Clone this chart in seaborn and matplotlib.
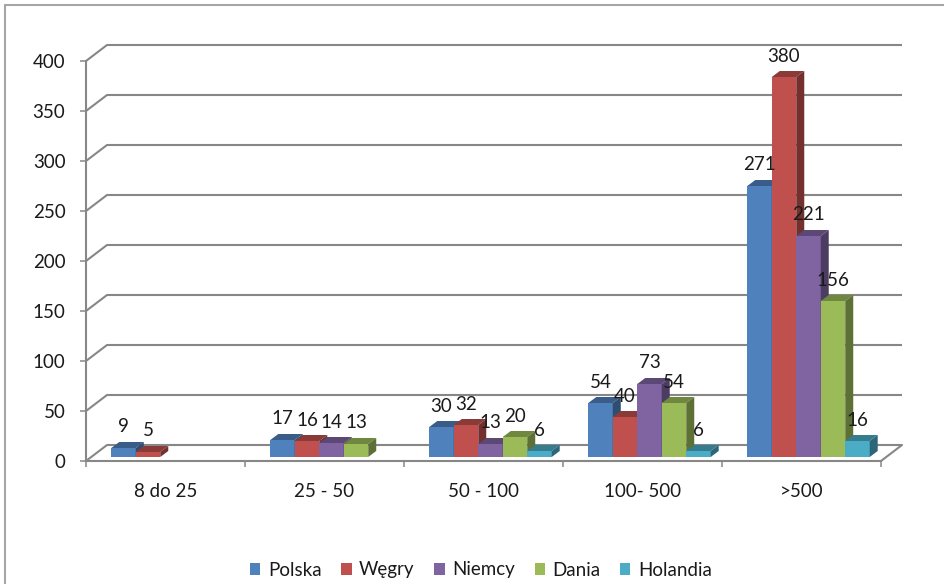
import matplotlib
matplotlib.use("Agg")
import matplotlib.pyplot as plt
import matplotlib.transforms as mtransforms
from matplotlib.patches import Polygon, Patch
from matplotlib.lines import Line2D
import numpy as np
import pandas as pd
import seaborn as sns

categories = ['8 do 25', '25 - 50', '50 - 100', '100- 500', '>500']
series = ['Polska', 'Węgry', 'Niemcy', 'Dania', 'Holandia']
polska = [9, 17, 30, 54, 271]
wegry = [5, 16, 32, 40, 380]
niemcy = [None, 14, 13, 73, 221]
dania = [None, 13, 20, 54, 156]
holandia = [None, None, 6, 6, 16]
yticks = [0, 50, 100, 150, 200, 250, 300, 350, 400]

colors = ['#4F81BD', '#C0504D', '#8064A2', '#9BBB59', '#4BACC6']

rows = []
for name, vals in zip(series, [polska, wegry, niemcy, dania, holandia]):
    for cat, v in zip(categories, vals):
        if v is not None:
            rows.append({'kategoria': cat, 'kraj': name, 'wartosc': v})
df = pd.DataFrame(rows)

sns.set_theme(style='white')
plt.rcParams['font.family'] = ['Lato', 'DejaVu Sans']
txt = '#1a1a1a'
grid = '#878787'
fs = 13.5

W, H = 944, 584
fig = plt.figure(figsize=(W / 100, H / 100), dpi=100)
ax = fig.add_axes([86 / W, 123 / H, 795 / W, 400 / H])

sns.barplot(data=df, x='kategoria', y='wartosc', hue='kraj', order=categories,
            hue_order=series, palette=colors, saturation=1, width=0.77,
            errorbar=None, legend=False, linewidth=0, ax=ax)

ax.set_xlim(-0.5, 4.5)
ax.set_ylim(0, 400)
ax.set_xlabel('')
ax.set_ylabel('')

# back wall offset (in data units) and bar depth
bx, by = 21 / 159, 16
dx, dy = 8 / 159, 6
shift = ax.transData + mtransforms.ScaledTranslation(7 / 100, 4 / 100, fig.dpi_scale_trans)

for v in yticks:
    ax.plot([-0.5, -0.5 + bx, 4.5 + bx], [v, v + by, v + by], color=grid, lw=1.5,
            clip_on=False, zorder=0.5, solid_capstyle='butt')
ax.plot([4.5, 4.5 + bx], [0, by], color=grid, lw=1.5, clip_on=False, zorder=0.5)

bars = sorted([p for p in ax.patches if p.get_height() > 0], key=lambda p: p.get_x())
for i, p in enumerate(bars):
    z = 2 + i * 0.01
    col = np.array(matplotlib.colors.to_rgb(p.get_facecolor()))
    p.set_transform(shift)
    p.set_clip_on(False)
    p.set_zorder(z)
    x0, w, h = p.get_x(), p.get_width(), p.get_height()
    top = Polygon([(x0, h), (x0 + w, h), (x0 + w + dx, h + dy), (x0 + dx, h + dy)],
                  closed=True, facecolor=col * 0.72, edgecolor='none',
                  transform=shift, clip_on=False, zorder=z + 0.003)
    side = Polygon([(x0 + w, 0), (x0 + w + dx, dy), (x0 + w + dx, h + dy), (x0 + w, h)],
                   closed=True, facecolor=col * 0.6, edgecolor='none',
                   transform=shift, clip_on=False, zorder=z + 0.006)
    ax.add_patch(top)
    ax.add_patch(side)
    ax.annotate(f'{int(round(h))}', xy=(x0 + w / 2, h), xycoords=shift,
                xytext=(0, 21), textcoords='offset pixels', ha='center', va='center',
                fontsize=fs, color=txt, zorder=10)

sns.despine(ax=ax, top=True, right=True)
for s in ['left', 'bottom']:
    ax.spines[s].set_color(grid)
    ax.spines[s].set_linewidth(1.5)

ax.set_yticks(yticks)
ax.set_yticklabels([str(v) for v in yticks])
ax.set_xticks(range(len(categories)))
ax.set_xticklabels(categories)
ax.set_xticks([i - 0.5 for i in range(len(categories) + 1)], minor=True)
ax.tick_params(axis='y', length=4.3, width=1.1, color=grid, pad=10.5,
               labelsize=fs, labelcolor=txt, left=True, direction='out')
ax.tick_params(axis='x', which='major', length=0, pad=15.5, labelsize=fs, labelcolor=txt)
ax.tick_params(axis='x', which='minor', length=4.3, width=1.1, color=grid,
               bottom=True, direction='out')

handles = [Patch(facecolor=c, edgecolor='none') for c in colors]
fig.legend(handles, series, loc='center', bbox_to_anchor=(481 / W, 1 - 570 / H),
           ncol=5, frameon=False, fontsize=fs, labelcolor=txt,
           handlelength=0.55, handleheight=0.55, handletextpad=0.4, columnspacing=1.05)

fig.add_artist(Line2D([5 / W, 1], [1 - 5 / H, 1 - 5 / H], transform=fig.transFigure,
                      color='#A6A6A6', lw=1.5))
fig.add_artist(Line2D([5 / W, 5 / W], [0, 1 - 5 / H], transform=fig.transFigure,
                      color='#A6A6A6', lw=1.5))

fig.savefig('out.png', dpi=100)
